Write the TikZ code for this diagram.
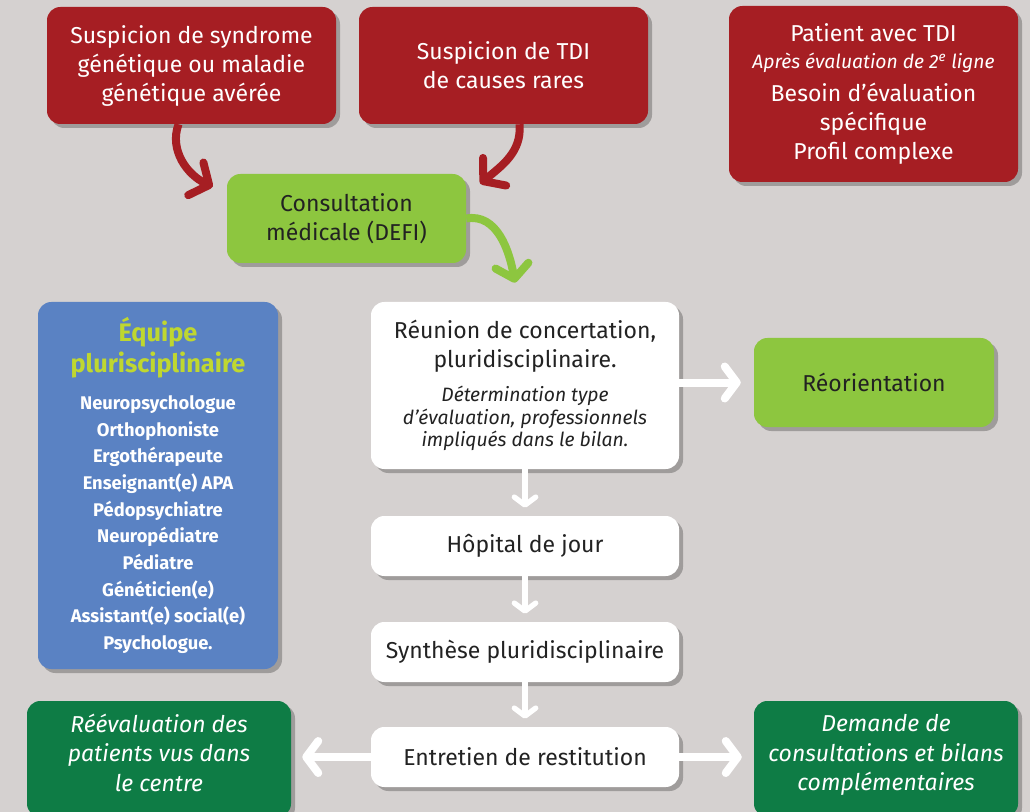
\documentclass[tikz,border=0pt]{standalone}
\usepackage{fontspec}
\setmainfont{Fira Sans}
\usetikzlibrary{arrows.meta,calc,shadows}
\definecolor{fond}{HTML}{D5D1D0}
\definecolor{rouge}{HTML}{A61E23}
\definecolor{vert}{HTML}{8DC63F}
\definecolor{vertfonce}{HTML}{0E7C45}
\definecolor{bleu}{HTML}{5A82C3}
\definecolor{citron}{HTML}{BFD730}
\definecolor{encre}{HTML}{222222}
\def\px{0.75pt}
\newcommand\titre[1]{{\color{citron}\fontsize{19}{20}\selectfont #1}}
\newcommand\detail[1]{{\itshape\fontsize{14.5}{17}\selectfont #1}}
\tikzset{
  box/.style={rounded corners=10pt, align=center, inner sep=0pt,
    font=\fontsize{17.25}{21.75}\selectfont,
    drop shadow={shadow xshift=3pt, shadow yshift=-3pt, opacity=.25, fill=black}},
  redbox/.style={box, fill=rouge, text=white},
  greenbox/.style={box, fill=vert, text=encre},
  whitebox/.style={box, fill=white, text=encre, minimum width=308*\px},
  darkbox/.style={box, fill=vertfonce, text=white, text depth=9.5pt,
    font=\itshape\fontsize{17.25}{22}\selectfont},
  bluebox/.style={box, fill=bleu, text=white, font=\bfseries\fontsize{13.75}{20}\selectfont},
  redarrow/.style={draw=rouge, line width=6pt, -{Straight Barb[length=11pt,width=27pt,round]}},
  greenarrow/.style={draw=vert, line width=6pt, -{Straight Barb[length=10pt,width=25pt,round]}},
  whitearrow/.style={draw=white, line width=6pt, -{Straight Barb[length=9pt,width=24pt,round]}},
  downarrow/.style={draw=white, line width=4pt, -{Straight Barb[length=6pt,width=16pt,round]}}
}
\begin{document}
\begin{tikzpicture}[x=\px, y=\px]
  %%%%% START %%%%%
  \fill[fond] (0,0) rectangle (1030,-812);
  \useasboundingbox (0,0) rectangle (1030,-812);

  \node[redbox, minimum width=289*\px, minimum height=117*\px] (sgen) at (191.5,-65.5)
    {Suspicion de syndrome\\génétique ou maladie\\génétique avérée};
  \node[redbox, minimum width=289*\px, minimum height=117*\px] (stdi) at (503.5,-65.5)
    {Suspicion de TDI\\de causes rares};
  \node[redbox, minimum width=289*\px, minimum height=176*\px] (ptdi) at (873.5,-94)
    {Patient avec TDI\\[-2pt]\detail{Après évaluation de 2\textsuperscript{e} ligne}\\[3pt]Besoin d’évaluation\\spécifique\\Profil complexe};

  \node[greenbox, minimum width=239*\px, minimum height=89*\px] (cons) at (346.5,-218.5)
    {Consultation\\médicale (DEFI)};

  \node[bluebox, minimum width=240*\px, minimum height=367*\px] (equipe) at (158,-485.5)
    {\titre{Équipe}\\[3.25pt]\titre{plurisciplinaire}\\[7.75pt]
     Neuropsychologue\\Orthophoniste\\Ergothérapeute\\Enseignant(e) APA\\Pédopsychiatre\\
     Neuropédiatre\\Pédiatre\\Généticien(e)\\Assistant(e) social(e)\\Psychologue.};

  \node[whitebox, minimum height=167*\px] (reunion) at (525,-385.5)
    {Réunion de concertation,\\pluridisciplinaire.\\[3.75pt]
     \detail{Détermination type}\\[-5pt]\detail{d'évaluation, professionnels}\\[-5pt]\detail{impliqués dans le bilan.}};
  \node[greenbox, minimum width=240*\px, minimum height=89*\px] (reor) at (874,-382.5)
    {Réorientation};
  \node[whitebox, minimum height=60*\px] (hopital) at (525,-546) {Hôpital de jour};
  \node[whitebox, minimum height=60*\px] (synth) at (525,-652) {Synthèse pluridisciplinaire};
  \node[whitebox, minimum height=60*\px] (entretien) at (525,-757) {Entretien de restitution};

  \node[darkbox, minimum width=264*\px, minimum height=116*\px] (reeval) at (159,-759)
    {Réévaluation des\\patients vus dans\\le centre};
  \node[darkbox, minimum width=264*\px, minimum height=116*\px] (demande) at (886,-759)
    {Demande de\\consultations et bilans\\complémentaires};

  \draw[redarrow] ($(sgen.south)+(-13,0)$) to[out=250,in=155] ($(cons.north west)+(-14,-13)$);
  \draw[redarrow] ($(stdi.south)+(16,0)$) to[out=275,in=40] ($(cons.north east)+(14,-10)$);
  \draw[greenarrow] (cons.east) to[out=10,in=100] ($(reunion.north)+(-10,19)$);

  \draw[whitearrow] (reunion.east |- reor.west) -- ($(reor.west)+(-13,0)$);
  \draw[downarrow] (reunion.south) -- ($(hopital.north)+(0,8)$);
  \draw[downarrow] (hopital.south) -- ($(synth.north)+(0,8)$);
  \draw[downarrow] (synth.south) -- ($(entretien.north)+(0,8)$);
  \draw[whitearrow] (entretien.west) -- ($(entretien.west -| reeval.east)+(11,0)$);
  \draw[whitearrow] (entretien.east) -- ($(entretien.east -| demande.west)+(-12,0)$);
  %%%%% END %%%%%
\end{tikzpicture}
\end{document}
